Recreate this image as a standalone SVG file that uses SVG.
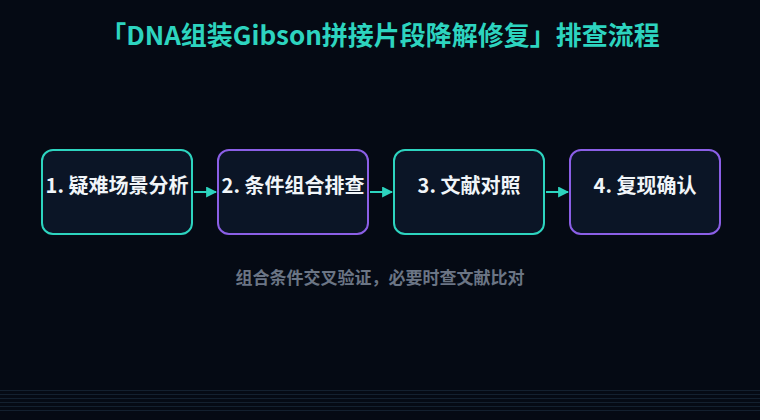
<svg xmlns="http://www.w3.org/2000/svg" width="760" height="420" viewBox="0 0 760 420">
<defs>
<style>
.bg{fill:#050a14}
.box{fill:#0b1526;stroke-width:2}
.teal{stroke:#2dd4bf}
.purple{stroke:#8b5fe6}
.lbl{font-family:"Noto Sans CJK SC","Noto Sans",sans-serif;font-weight:700;font-size:20px;fill:#f1f5f9;text-anchor:middle}
.title{font-family:"Noto Sans CJK SC","Noto Sans",sans-serif;font-weight:700;font-size:26px;fill:#2dd4bf;text-anchor:middle}
.sub{font-family:"Noto Sans CJK SC","Noto Sans",sans-serif;font-weight:700;font-size:17px;fill:#6b7585;text-anchor:middle}
.conn{stroke:#2dd4bf;stroke-width:2;fill:none}
.gl{stroke:#13202f;stroke-width:1}
</style>
<marker id="ah" viewBox="0 0 10 10" refX="9" refY="5" markerWidth="11" markerHeight="11" markerUnits="userSpaceOnUse" orient="auto">
<path d="M0,0 L10,5 L0,10 Z" fill="#2dd4bf"/>
</marker>
</defs>
<rect class="bg" x="0" y="0" width="760" height="420"/>
<g id="grid">
<line class="gl" x1="0" y1="390.5" x2="760" y2="390.5"/>
<line class="gl" x1="0" y1="394.5" x2="760" y2="394.5"/>
<line class="gl" x1="0" y1="398.5" x2="760" y2="398.5"/>
<line class="gl" x1="0" y1="402.5" x2="760" y2="402.5"/>
<line class="gl" x1="0" y1="406.5" x2="760" y2="406.5"/>
<line class="gl" x1="0" y1="410.5" x2="760" y2="410.5"/>
</g>
<text class="title" x="380" y="45">「DNA组装Gibson拼接片段降解修复」排查流程</text>
<g id="connectors">
<line class="conn" x1="194" y1="192" x2="216" y2="192" marker-end="url(#ah)"/>
<line class="conn" x1="370" y1="192" x2="392" y2="192" marker-end="url(#ah)"/>
<line class="conn" x1="546" y1="192" x2="568" y2="192" marker-end="url(#ah)"/>
</g>
<g id="node1">
<rect class="box teal" x="42" y="150" width="150" height="84" rx="11"/>
<text class="lbl" x="117" y="193">1. 疑难场景分析</text>
</g>
<g id="node2">
<rect class="box purple" x="218" y="150" width="150" height="84" rx="11"/>
<text class="lbl" x="293" y="193">2. 条件组合排查</text>
</g>
<g id="node3">
<rect class="box teal" x="394" y="150" width="150" height="84" rx="11"/>
<text class="lbl" x="469" y="193">3. 文献对照</text>
</g>
<g id="node4">
<rect class="box purple" x="570" y="150" width="150" height="84" rx="11"/>
<text class="lbl" x="645" y="193">4. 复现确认</text>
</g>
<text class="sub" x="380" y="284">组合条件交叉验证，必要时查文献比对</text>
</svg>
